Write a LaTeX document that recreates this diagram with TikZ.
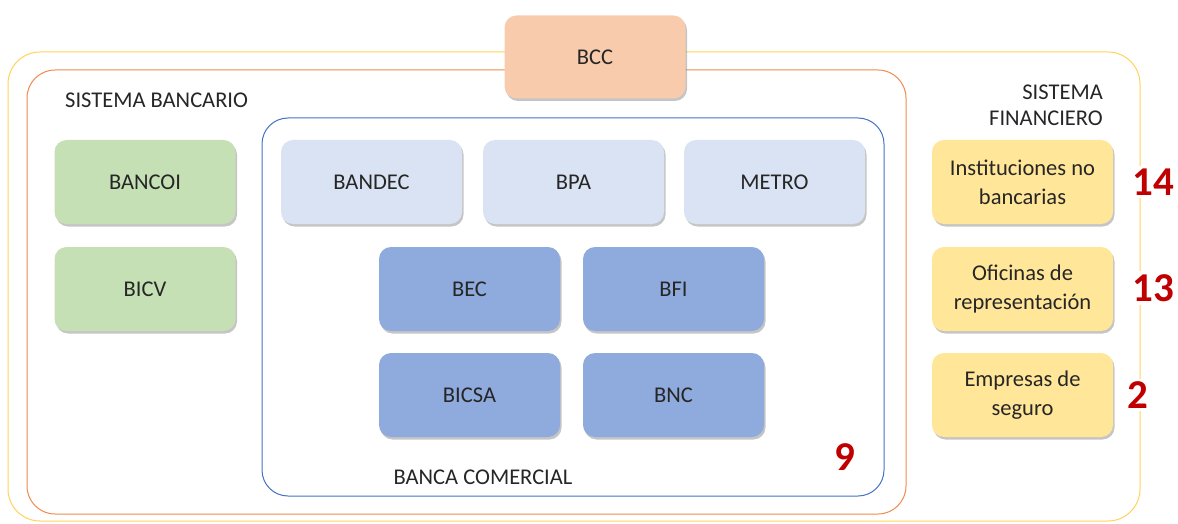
\documentclass[tikz,border=0pt]{standalone}
\usepackage{fontspec}
\setmainfont{Carlito}
\usetikzlibrary{shadows}
\definecolor{cgreen}{HTML}{C5E0B4}
\definecolor{clblue}{HTML}{DAE3F3}
\definecolor{cblue}{HTML}{8FAADC}
\definecolor{cyel}{HTML}{FFE699}
\definecolor{cpeach}{HTML}{F8CBAD}
\definecolor{cyline}{HTML}{FFD25A}
\definecolor{coline}{HTML}{F08A50}
\definecolor{cbline}{HTML}{4472C4}
\definecolor{cnum}{HTML}{C00000}
\definecolor{ctext}{HTML}{262626}
\begin{document}
\begin{tikzpicture}[x=1pt,y=-1pt,
  box/.style={rounded corners=12pt, minimum width=181pt, minimum height=84pt,
    inner sep=2pt, text=ctext, align=center, font=\fontsize{22.5}{29}\selectfont,
    drop shadow={shadow xshift=1.5pt, shadow yshift=-2.5pt, fill=black!45, opacity=0.5}},
  frame/.style={rounded corners=#1, line width=1pt},
  lbl/.style={text=ctext, font=\fontsize{22.5}{26}\selectfont, inner sep=0pt},
  num/.style={text=cnum, font=\fontsize{41}{44}\selectfont\bfseries, fill=white, inner sep=3pt}]
\useasboundingbox (0,0) rectangle (1178,524);
% frames
\draw[frame=32pt, cyline] (8,52) rectangle (1140,521);
\draw[frame=28pt, coline] (27,70) rectangle (906,514);
\draw[frame=26pt, cbline] (262,118) rectangle (884,496);
% BCC
\node[box, fill=cpeach, minimum height=83pt] (bcc) at (595,57) {BCC};
% labels
\node[lbl, anchor=west] (sb) at (65,100) {SISTEMA BANCARIO};
\node[lbl, anchor=east, align=right] (sf) at (1103,105) {SISTEMA\\FINANCIERO};
\node[lbl] (bc) at (483,477) {BANCA COMERCIAL};
% green
\node[box, fill=cgreen] (bancoi) at (145,182) {BANCOI};
\node[box, fill=cgreen] (bicv) at (145,289) {BICV};
% light blue
\node[box, fill=clblue] (bandec) at (371.5,182) {BANDEC};
\node[box, fill=clblue] (bpa) at (573.5,182) {BPA};
\node[box, fill=clblue] (metro) at (774.5,182) {METRO};
% blue
\node[box, fill=cblue] (bec) at (469.5,289) {BEC};
\node[box, fill=cblue] (bfi) at (673.5,289) {BFI};
\node[box, fill=cblue] (bicsa) at (469.5,395) {BICSA};
\node[box, fill=cblue] (bnc) at (673.5,395) {BNC};
% yellow
\node[box, fill=cyel] (inst) at (1022.5,182) {Instituciones no\\bancarias};
\node[box, fill=cyel] (ofic) at (1022.5,289) {Oficinas de\\representación};
\node[box, fill=cyel] (emp) at (1022.5,395) {Empresas de\\seguro};
% numbers
\node[num] (n14) at (1153,182) {14};
\node[num] (n13) at (1153,288) {13};
\node[num] (n2) at (1138,395) {2};
\node[num, fill=none] (n9) at (845,457) {9};
\end{tikzpicture}
\end{document}
